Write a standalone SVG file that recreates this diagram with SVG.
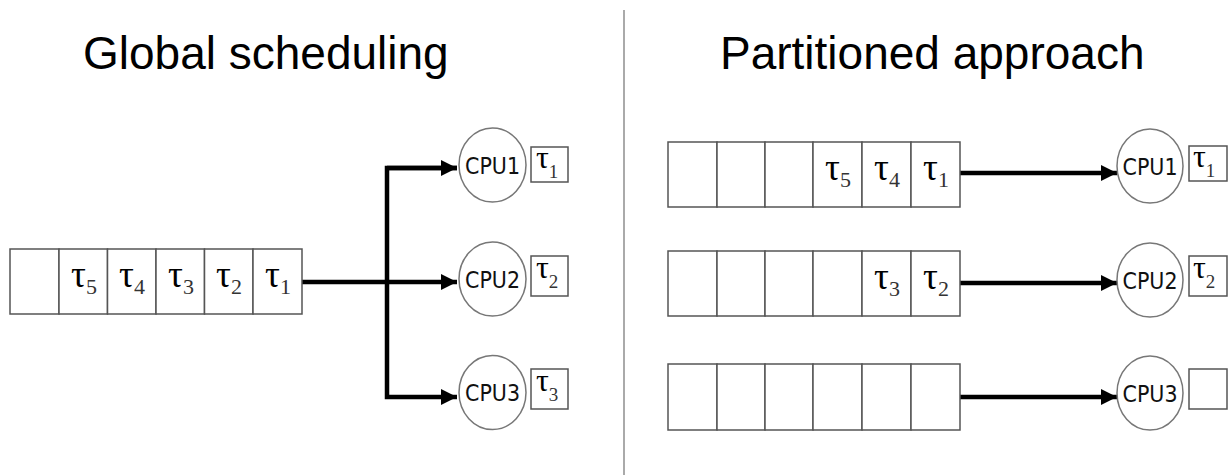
<svg xmlns="http://www.w3.org/2000/svg" width="1230" height="475" viewBox="0 0 1230 475">
  <defs>
    <marker id="arrow" markerWidth="3.6" markerHeight="3.6" refX="3.6" refY="1.8" orient="auto" markerUnits="strokeWidth">
      <path d="M0,0 L3.6,1.8 L0,3.6 Z" fill="#000"/>
    </marker>
    <style>
      .title { font-family: "Liberation Sans", Arial, sans-serif; font-size: 46px; fill: #000; }
      .cell { fill: #fff; stroke: #555; stroke-width: 1.5; }
      .cpu { fill: #fff; stroke: #777; stroke-width: 1.5; }
      .cpu-label { font-family: "DejaVu Sans", Verdana, sans-serif; font-size: 23px; fill: #111; text-anchor: middle; }
      .task { font-family: "Liberation Serif", "Times New Roman", serif; font-size: 37px; fill: #000; }
      .task tspan { font-size: 22px; fill: #333; }
      .slot { font-family: "Liberation Serif", "Times New Roman", serif; font-size: 32px; fill: #000; }
      .slot tspan { font-size: 19px; fill: #333; }
      .link { fill: none; stroke: #000; stroke-width: 4.5; stroke-linejoin: miter; }
      .divider { stroke: #aaa; stroke-width: 2; }
    </style>
  </defs>

  <!-- headings -->
  <text class="title" x="83" y="69">Global scheduling</text>
  <text class="title" x="720" y="69">Partitioned approach</text>

  <!-- separator between the two halves -->
  <line class="divider" x1="624" y1="10" x2="624" y2="475"/>

  <!-- connectors -->
  <g id="connectors">
    <path class="link" d="M302,282 H457" marker-end="url(#arrow)"/>
    <path class="link" d="M457,168 H387 V397 H457" marker-end="url(#arrow)"/>
    <path class="link" d="M387,168 H457" marker-end="url(#arrow)"/>
    <path class="link" d="M960,173 H1117" marker-end="url(#arrow)"/>
    <path class="link" d="M960,283 H1117" marker-end="url(#arrow)"/>
    <path class="link" d="M960,397 H1117" marker-end="url(#arrow)"/>
  </g>

  <!-- global ready queue -->
  <g id="global-queue">
    <rect class="cell" x="10" y="249" width="49" height="65"/>
    <rect class="cell" x="59" y="249" width="48.5" height="65"/>
    <rect class="cell" x="107.5" y="249" width="48.5" height="65"/>
    <rect class="cell" x="156" y="249" width="48.5" height="65"/>
    <rect class="cell" x="204.5" y="249" width="48.5" height="65"/>
    <rect class="cell" x="253" y="249" width="49" height="65"/>
    <text class="task" x="71" y="287">τ<tspan dy="7">5</tspan></text>
    <text class="task" x="119" y="287">τ<tspan dy="7">4</tspan></text>
    <text class="task" x="168" y="287">τ<tspan dy="7">3</tspan></text>
    <text class="task" x="216" y="287">τ<tspan dy="7">2</tspan></text>
    <text class="task" x="265" y="287">τ<tspan dy="7">1</tspan></text>
  </g>

  <!-- global: processors -->
  <g id="g-cpu1">
    <ellipse class="cpu" cx="492.5" cy="165" rx="33.5" ry="37"/>
    <text class="cpu-label" x="492.5" y="174" textLength="55" lengthAdjust="spacingAndGlyphs">CPU1</text>
    <rect class="cell" x="531" y="147" width="37" height="35"/>
    <text class="slot" x="536" y="168">τ<tspan dy="10">1</tspan></text>
  </g>
  <g id="g-cpu2">
    <ellipse class="cpu" cx="492.5" cy="279" rx="33.5" ry="37"/>
    <text class="cpu-label" x="492.5" y="288" textLength="55" lengthAdjust="spacingAndGlyphs">CPU2</text>
    <rect class="cell" x="531" y="256" width="37" height="40"/>
    <text class="slot" x="536" y="278">τ<tspan dy="10">2</tspan></text>
  </g>
  <g id="g-cpu3">
    <ellipse class="cpu" cx="492.5" cy="392.5" rx="33.5" ry="37"/>
    <text class="cpu-label" x="492.5" y="401" textLength="55" lengthAdjust="spacingAndGlyphs">CPU3</text>
    <rect class="cell" x="531" y="369" width="37" height="40"/>
    <text class="slot" x="536" y="391">τ<tspan dy="10">3</tspan></text>
  </g>

  <!-- partitioned: per-processor queues -->
  <g id="p-queue1">
    <rect class="cell" x="668" y="142" width="49" height="65"/>
    <rect class="cell" x="717" y="142" width="48" height="65"/>
    <rect class="cell" x="765" y="142" width="48" height="65"/>
    <rect class="cell" x="813" y="142" width="49" height="65"/>
    <rect class="cell" x="862" y="142" width="49" height="65"/>
    <rect class="cell" x="911" y="142" width="49" height="65"/>
    <text class="task" x="825" y="180">τ<tspan dy="7">5</tspan></text>
    <text class="task" x="874" y="180">τ<tspan dy="7">4</tspan></text>
    <text class="task" x="923" y="180">τ<tspan dy="7">1</tspan></text>
  </g>
  <g id="p-queue2">
    <rect class="cell" x="668" y="251" width="49" height="65"/>
    <rect class="cell" x="717" y="251" width="48" height="65"/>
    <rect class="cell" x="765" y="251" width="48" height="65"/>
    <rect class="cell" x="813" y="251" width="49" height="65"/>
    <rect class="cell" x="862" y="251" width="49" height="65"/>
    <rect class="cell" x="911" y="251" width="49" height="65"/>
    <text class="task" x="874" y="289">τ<tspan dy="7">3</tspan></text>
    <text class="task" x="923" y="289">τ<tspan dy="7">2</tspan></text>
  </g>
  <g id="p-queue3">
    <rect class="cell" x="668" y="364" width="49" height="66"/>
    <rect class="cell" x="717" y="364" width="48" height="66"/>
    <rect class="cell" x="765" y="364" width="48" height="66"/>
    <rect class="cell" x="813" y="364" width="49" height="66"/>
    <rect class="cell" x="862" y="364" width="49" height="66"/>
    <rect class="cell" x="911" y="364" width="49" height="66"/>
  </g>

  <!-- partitioned: processors -->
  <g id="p-cpu1">
    <ellipse class="cpu" cx="1150" cy="166" rx="33" ry="37"/>
    <text class="cpu-label" x="1150" y="175" textLength="55" lengthAdjust="spacingAndGlyphs">CPU1</text>
    <rect class="cell" x="1189" y="146" width="38" height="35"/>
    <text class="slot" x="1193" y="167">τ<tspan dy="10">1</tspan></text>
  </g>
  <g id="p-cpu2">
    <ellipse class="cpu" cx="1150" cy="280" rx="33" ry="37"/>
    <text class="cpu-label" x="1150" y="289" textLength="55" lengthAdjust="spacingAndGlyphs">CPU2</text>
    <rect class="cell" x="1189" y="256" width="38" height="40"/>
    <text class="slot" x="1193" y="278">τ<tspan dy="10">2</tspan></text>
  </g>
  <g id="p-cpu3">
    <ellipse class="cpu" cx="1150" cy="393" rx="33" ry="37"/>
    <text class="cpu-label" x="1150" y="402" textLength="55" lengthAdjust="spacingAndGlyphs">CPU3</text>
    <rect class="cell" x="1189" y="369" width="38" height="40"/>
  </g>
</svg>
